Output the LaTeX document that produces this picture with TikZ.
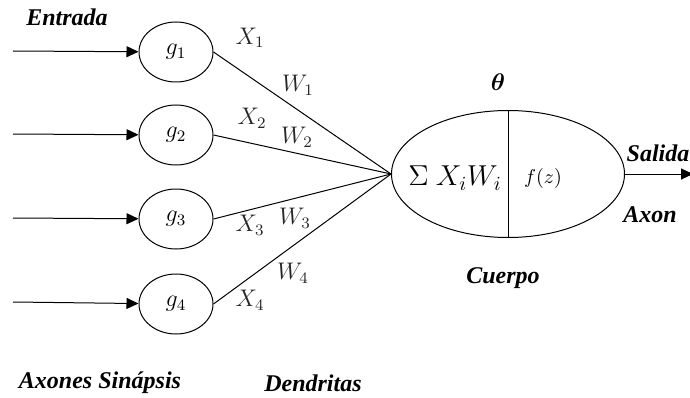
\documentclass[tikz,border=0pt]{standalone}
\usepackage{amsmath}
\usepackage{bm}
\usepackage{fontspec}
\setmainfont{Liberation Serif}
\usetikzlibrary{shapes.geometric,arrows.meta}

\begin{document}
\begin{tikzpicture}[x=0.5pt,y=0.5pt,line width=0.5pt,
  gnode/.style={ellipse,draw,minimum width=37pt,minimum height=30pt,inner sep=0pt,font=\large},
  tag/.style={font=\fontsize{12}{14}\selectfont\bfseries\itshape},
  wlabel/.style={text=black!85,font=\large},
  inarrow/.style={-{Triangle[length=6pt,width=5.5pt]}}]
\useasboundingbox (0,0) rectangle (690,397);

\node[gnode] (g1) at (176,345) {$g_1$};
\node[gnode] (g2) at (176,262) {$g_2$};
\node[gnode] (g3) at (176,178) {$g_3$};
\node[gnode] (g4) at (176,93) {$g_4$};

\coordinate (in1) at (13,346);
\coordinate (in2) at (13,263);
\coordinate (in3) at (13,179);
\coordinate (in4) at (13,95);
\draw[inarrow] (in1) -- (g1);
\draw[inarrow] (in2) -- (g2);
\draw[inarrow] (in3) -- (g3);
\draw[inarrow] (in4) -- (g4);

\node[ellipse,draw,minimum width=116.5pt,minimum height=63.5pt,inner sep=0pt] (body) at (508,223) {};
\draw (body.north) -- (body.south);
\node (sum) at (455,219) {\Large $\Sigma\ X_iW_i$};
\node (fz) at (543,219) {$f(z)$};

\draw (g1.east) -- (body.west);
\draw (g2.east) -- (body.west);
\draw (g3.east) -- (body.west);
\draw (g4.east) -- (body.west);

\coordinate (out) at (693,223);
\draw[inarrow] (body.east) -- (out);

\node[wlabel] (x1) at (250,359) {$X_1$};
\node[wlabel] (x2) at (252,279) {$X_2$};
\node[wlabel] (x3) at (250,172) {$X_3$};
\node[wlabel] (x4) at (250,97) {$X_4$};
\node[wlabel] (w1) at (298,312) {$W_1$};
\node[wlabel] (w2) at (297,260) {$W_2$};
\node[wlabel] (w3) at (295,179) {$W_3$};
\node[wlabel] (w4) at (293,124) {$W_4$};

\node (theta) at (498,315) {\large $\bm{\theta}$};
\node[tag] (entrada) at (67,380) {Entrada};
\node[tag] (salida) at (658,244) {Salida};
\node[tag] (axon) at (650,182) {Axon};
\node[tag] (cuerpo) at (503,119) {Cuerpo};
\node[tag] (sinapsis) at (100,14) {Axones Sinápsis};
\node[tag] (dendritas) at (313,14) {Dendritas};
\end{tikzpicture}
\end{document}
